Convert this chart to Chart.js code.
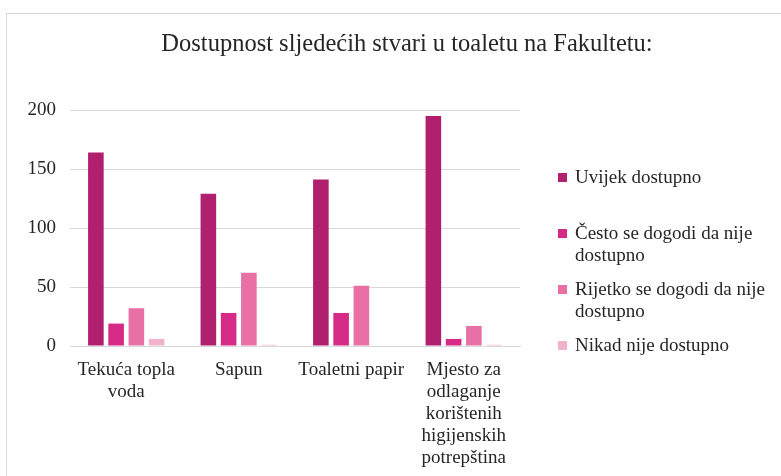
<!DOCTYPE html>
<html>
<head>
<meta charset="utf-8">
<script src="https://cdn.jsdelivr.net/npm/chart.js@4.4.0/dist/chart.umd.min.js"></script>
<style>
  html, body { margin: 0; padding: 0; background: #fff; overflow: hidden; }
  #box {
    position: absolute; left: 6px; top: 13px;
    width: 800px; height: 480px;
    border: 1px solid #d9d9d9;
  }
  #chart { position: absolute; left: 0; top: 0; }
</style>
</head>
<body>
<div id="box"><canvas id="chart" width="800" height="480"></canvas></div>
<script>
const chartTitle = 'Dostupnost sljedećih stvari u toaletu na Fakultetu:';
const categories = [
  ['Tekuća topla', 'voda'],
  'Sapun',
  'Toaletni papir',
  ['Mjesto za', 'odlaganje', 'korištenih', 'higijenskih', 'potrepština']
];
const seriesNames = [
  'Uvijek dostupno',
  'Često se dogodi da nije dostupno',
  'Rijetko se dogodi da nije dostupno',
  'Nikad nije dostupno'
];
const uvijek = [164, 129, 141, 195];
const cesto = [19, 28, 28, 6];
const rijetko = [32, 62, 51, 17];
const nikad = [6, 1, 0, 1];
const yTicks = [0, 50, 100, 150, 200];

const colors = ['#b0206e', '#d62a87', '#e870a5', '#f0b3cb'];
const serif = '"Liberation Serif", "Times New Roman", serif';

// naslov centriran na cijeloj kutiji + legenda sa prelomom redova desno
const extras = {
  id: 'extras',
  afterDraw(chart) {
    const ctx = chart.ctx;
    ctx.save();
    ctx.fillStyle = '#262626';
    ctx.font = '24.5px ' + serif;
    ctx.textAlign = 'center';
    ctx.textBaseline = 'middle';
    ctx.fillText(chartTitle, 400, 31);

    ctx.textAlign = 'left';
    ctx.font = '19px ' + serif;
    chart.data.datasets.forEach((ds, i) => {
      const y = 164 + i * 56;
      ctx.fillStyle = ds.backgroundColor;
      ctx.fillRect(551, y - 5, 9, 9);
      ctx.fillStyle = '#262626';
      const words = ds.label.split(' ');
      let line = '';
      let ly = y;
      words.forEach(w => {
        const test = line ? line + ' ' + w : w;
        if (ctx.measureText(test).width > 205 && line) {
          ctx.fillText(line, 568, ly);
          line = w;
          ly += 22;
        } else {
          line = test;
        }
      });
      ctx.fillText(line, 568, ly);
    });
    ctx.restore();
  }
};

const ctx = document.getElementById('chart').getContext('2d');
new Chart(ctx, {
  type: 'bar',
  data: {
    labels: categories,
    datasets: [uvijek, cesto, rijetko, nikad].map((vals, i) => ({
      label: seriesNames[i],
      data: vals,
      backgroundColor: colors[i],
      borderWidth: 0,
      categoryPercentage: 0.72,
      barPercentage: 0.77
    }))
  },
  options: {
    responsive: false,
    animation: false,
    layout: { padding: { left: 0, right: 287, top: 96, bottom: 0 } },
    plugins: {
      legend: { display: false },
      tooltip: { enabled: false },
      title: { display: false }
    },
    scales: {
      x: {
        grid: { display: false, drawTicks: false },
        border: { display: true, color: '#d9d9d9', width: 1 },
        ticks: {
          color: '#262626',
          font: { family: serif, size: 19, lineHeight: 1.16 },
          padding: 13,
          maxRotation: 0,
          autoSkip: false
        },
        afterFit(scale) { scale.height = 148; }
      },
      y: {
        min: 0,
        max: 200,
        afterBuildTicks(scale) { scale.ticks = yTicks.map(v => ({ value: v })); },
        grid: { color: '#d9d9d9', lineWidth: 1, drawTicks: false },
        border: { display: false },
        ticks: {
          color: '#262626',
          font: { family: serif, size: 19 },
          padding: 14
        },
        afterFit(scale) { scale.width = 63; }
      }
    }
  },
  plugins: [extras]
});
</script>
</body>
</html>
